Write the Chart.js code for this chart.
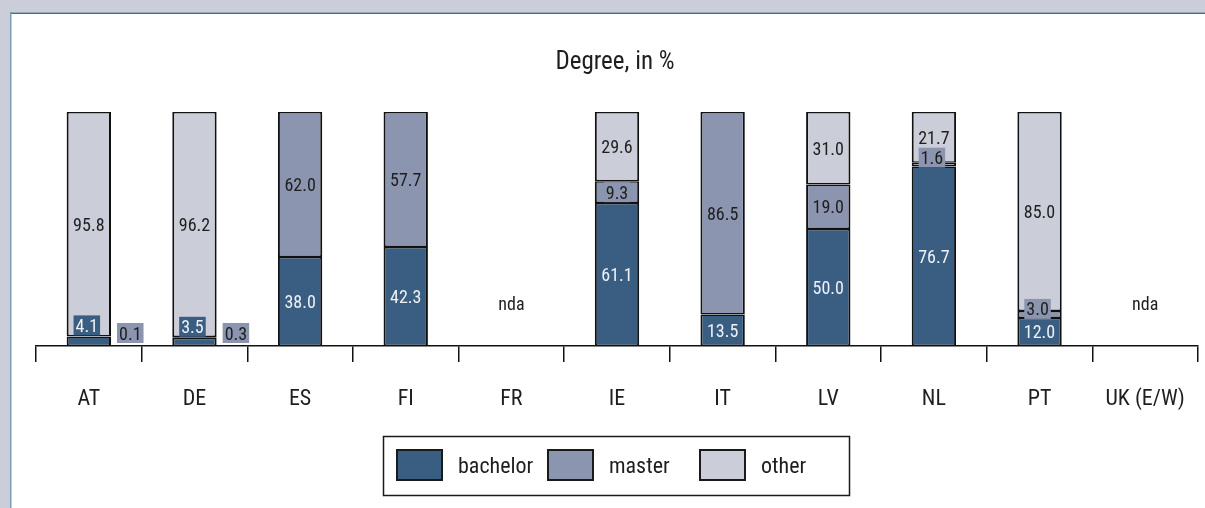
<!DOCTYPE html>
<html>
<head>
<meta charset="utf-8">
<script src="https://cdn.jsdelivr.net/npm/chart.js@4/dist/chart.umd.min.js"></script>
<style>
html,body{margin:0;padding:0;background:#cbced9;}
canvas{display:block;}
</style>
</head>
<body>
<canvas id="c" width="1205" height="508"></canvas>
<script>
const categories = ['AT','DE','ES','FI','FR','IE','IT','LV','NL','PT','UK (E/W)'];
const bachelor = [4.1, 3.5, 38.0, 42.3, null, 61.1, 13.5, 50.0, 76.7, 12.0, null];
const master   = [0.1, 0.3, 62.0, 57.7, null, 9.3, 86.5, 19.0, 1.6, 3.0, null];
const other    = [95.8, 96.2, null, null, null, 29.6, null, 31.0, 21.7, 85.0, null];
const seriesNames = ['bachelor','master','other'];
const titleText = 'Degree, in %';
const missingText = 'nda';

const FONT = "'Liberation Sans Narrow','Arial Narrow','Roboto Condensed','DejaVu Sans Condensed',sans-serif";
const colors = ['#3a5e82','#8b95af','#cbcdd9'];
const textColors = ['#eef1f6','#1e1e1e','#1e1e1e'];

const panelPlugin = {
  id: 'panel',
  beforeDraw(chart) {
    const ctx = chart.ctx;
    ctx.save();
    ctx.fillStyle = '#cbced9';
    ctx.fillRect(0, 0, chart.width, chart.height);
    ctx.fillStyle = '#ffffff';
    ctx.fillRect(11, 13, chart.width - 11, chart.height - 13);
    ctx.fillStyle = '#93a8c1';
    ctx.fillRect(10, 12, chart.width - 10, 1);
    ctx.fillStyle = '#466890';
    ctx.fillRect(11, 13, chart.width - 11, 1);
    ctx.fillStyle = '#7f9ab8';
    ctx.fillRect(10, 12, 1.5, chart.height - 12);
    ctx.fillStyle = '#1e1e1e';
    ctx.font = '25px ' + FONT;
    ctx.textAlign = 'center';
    ctx.textBaseline = 'middle';
    const ca = chart.chartArea;
    ctx.fillText(titleText, (ca.left + ca.right) / 2 - 2, 63);
    ctx.restore();
  }
};

const labelPlugin = {
  id: 'valueLabels',
  afterDatasetsDraw(chart) {
    const ctx = chart.ctx;
    const y0 = chart.scales.y.getPixelForValue(0);
    ctx.save();
    ctx.font = '18px ' + FONT;
    ctx.textAlign = 'center';
    ctx.textBaseline = 'middle';
    chart.data.datasets.forEach((ds, di) => {
      const meta = chart.getDatasetMeta(di);
      meta.data.forEach((bar, i) => {
        const v = ds.data[i];
        if (v === null || v === undefined) return;
        const p = bar.getProps(['x','y','base','width'], true);
        const top = Math.min(p.y, p.base), bot = Math.max(p.y, p.base);
        const h = bot - top;
        const txt = v.toFixed(1);
        const tw = ctx.measureText(txt).width;
        const bw = tw + 4, bh = 20;
        let cx = p.x, cy;
        if (v < 1) {
          cx = p.x + p.width / 2 + 6 + bw / 2;
          cy = y0 - 3 - bh / 2;
        } else if (h < bh) {
          if (di === 0) cy = top - 1 - bh / 2;
          else cy = bot + 1 - bh / 2;
          cx = p.x - 2;
        } else {
          cy = (top + bot) / 2;
        }
        ctx.fillStyle = colors[di];
        ctx.fillRect(cx - bw / 2, cy - bh / 2, bw, bh);
        ctx.fillStyle = textColors[di];
        ctx.fillText(txt, cx, cy + 2);
      });
    });
    ctx.fillStyle = '#1e1e1e';
    ctx.font = '18px ' + FONT;
    const xs = chart.scales.x;
    categories.forEach((c, i) => {
      const all = chart.data.datasets.every(ds => ds.data[i] === null || ds.data[i] === undefined);
      if (all) ctx.fillText(missingText, xs.getPixelForValue(i), 305);
    });
    ctx.restore();
  }
};

const legendPlugin = {
  id: 'customLegend',
  afterDraw(chart) {
    const ctx = chart.ctx;
    ctx.save();
    ctx.strokeStyle = '#1a1a1a';
    ctx.lineWidth = 1.5;
    ctx.strokeRect(383.5, 436.5, 466, 59);
    const boxX = [396, 547, 699];
    ctx.font = '22px ' + FONT;
    ctx.textBaseline = 'middle';
    ctx.textAlign = 'left';
    chart.data.datasets.forEach((ds, di) => {
      ctx.fillStyle = colors[di];
      ctx.fillRect(boxX[di], 449, 47, 32);
      ctx.lineWidth = 2;
      ctx.strokeStyle = '#1a1a1a';
      ctx.strokeRect(boxX[di] + 1, 450, 45, 30);
      ctx.fillStyle = '#1e1e1e';
      ctx.fillText(ds.label, boxX[di] + 62, 467);
    });
    ctx.restore();
  }
};

const datasets = [bachelor, master, other].map((d, i) => ({
  label: seriesNames[i],
  data: d,
  backgroundColor: colors[i],
  borderColor: '#111111',
  borderWidth: { left: 2, right: 2, top: 1.5, bottom: 1.5 },
  borderSkipped: false,
  barPercentage: 0.42,
  categoryPercentage: 1.0
}));

new Chart(document.getElementById('c'), {
  type: 'bar',
  data: { labels: categories, datasets },
  options: {
    responsive: false,
    animation: false,
    devicePixelRatio: 1,
    layout: { padding: { left: 36, right: 7, top: 112, bottom: 0 } },
    plugins: { legend: { display: false }, title: { display: false }, tooltip: { enabled: false } },
    scales: {
      x: {
        stacked: true,
        offset: true,
        grid: { offset: true, drawOnChartArea: false, drawTicks: true, tickLength: 16, color: '#111111', lineWidth: 1.5 },
        border: { display: true, color: '#111111', width: 1.5 },
        ticks: { padding: 24, color: '#1e1e1e', font: { family: FONT, size: 22 }, maxRotation: 0, autoSkip: false },
        afterFit(scale) { scale.height = 162; scale.paddingLeft = 0; scale.paddingRight = 0; }
      },
      y: { stacked: true, min: 0, max: 100, display: false }
    }
  },
  plugins: [panelPlugin, labelPlugin, legendPlugin]
});
</script>
</body>
</html>
